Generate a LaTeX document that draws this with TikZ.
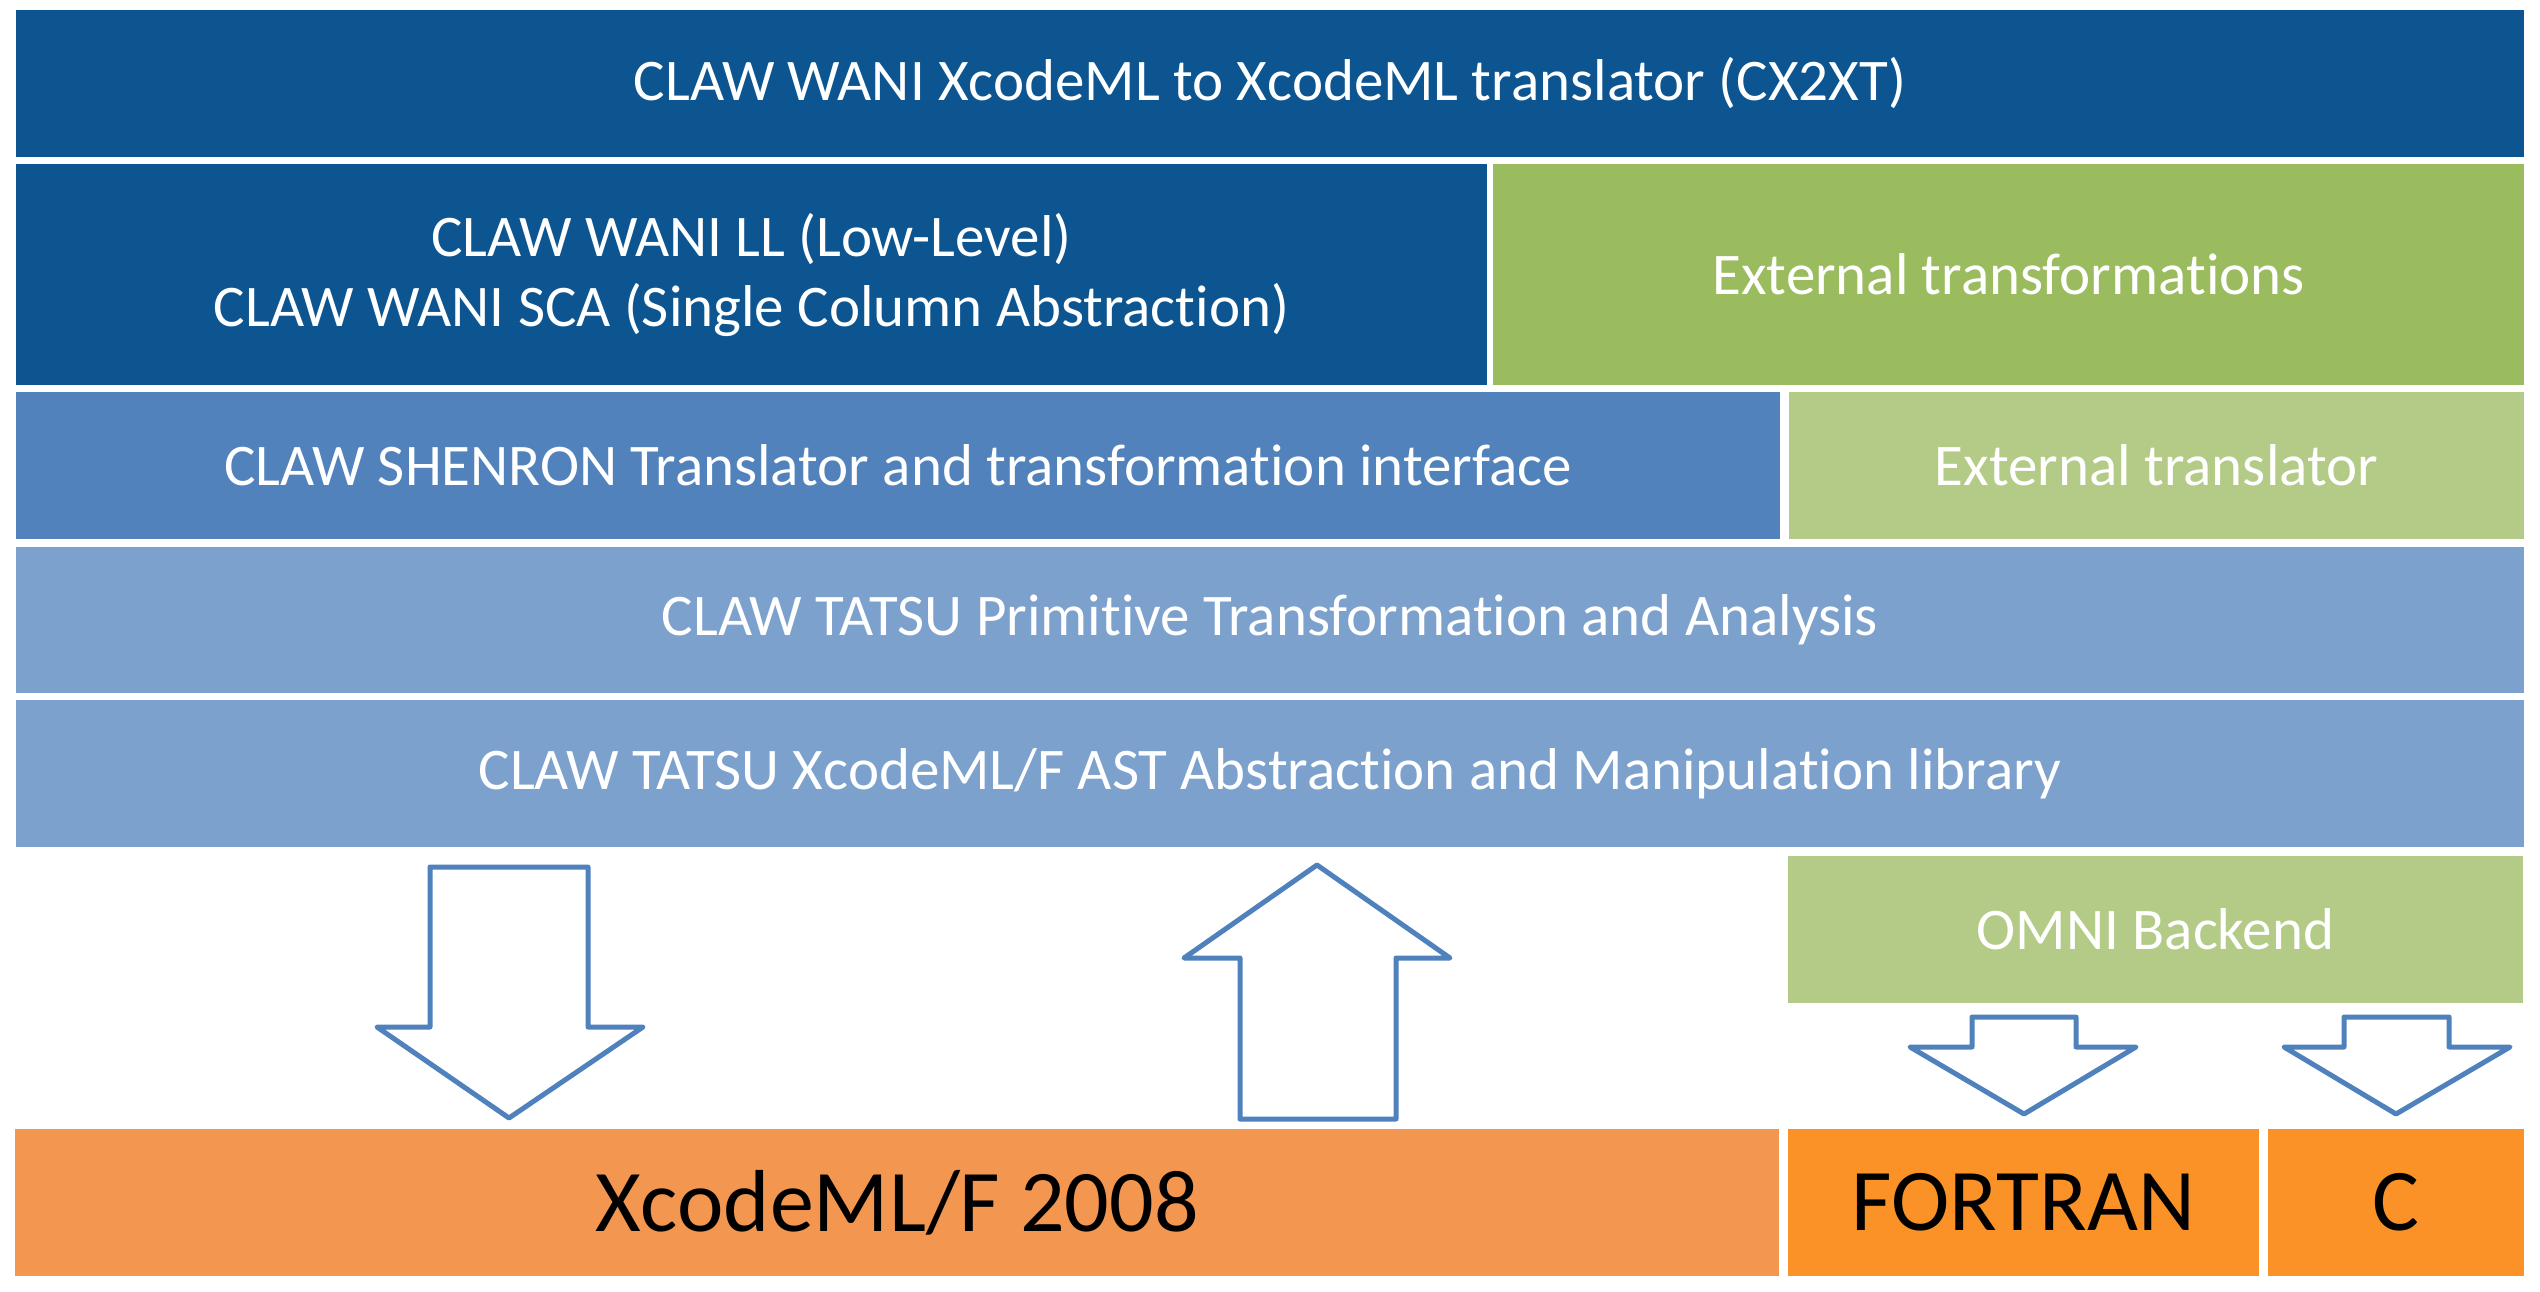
\documentclass[tikz,border=0pt]{standalone}
\usepackage{fontspec}
\setmainfont[Ligatures={NoCommon}]{Carlito}
\definecolor{dblue}{HTML}{0C5591}
\definecolor{mblue}{HTML}{5182BB}
\definecolor{lblue}{HTML}{7CA1CC}
\definecolor{dgreen}{HTML}{9BBB5F}
\definecolor{lgreen}{HTML}{B3CB87}
\definecolor{lorange}{HTML}{F39650}
\definecolor{borange}{HTML}{FB9228}
\definecolor{arrowblue}{HTML}{4F81BD}
\begin{document}
\begin{tikzpicture}[x=1pt,y=-1pt,
  box/.style={anchor=north west, inner sep=0pt, outer sep=0pt, draw=none,
    text=white, align=center, font=\fontsize{59}{70}\selectfont},
  outbox/.style={box, text=black, font=\fontsize{88}{100}\selectfont},
  blockarrow/.style={draw=arrowblue, line width=5pt, line join=round, fill=white}]
\useasboundingbox[fill=white] (0,0) rectangle (2540,1292);

\node[box, fill=dblue, minimum width=2508pt, minimum height=147pt] (cx2xt) at (16,10)
  {CLAW WANI XcodeML to XcodeML translator (CX2XT)};
\node[box, fill=dblue, minimum width=1471pt, minimum height=221pt] (wani) at (16,164)
  {CLAW WANI LL (Low-Level)\\CLAW WANI SCA (Single Column Abstraction)};
\node[box, fill=dgreen, minimum width=1031pt, minimum height=221pt] (exttr) at (1493,164)
  {External transformations};
\node[box, fill=mblue, minimum width=1764pt, minimum height=147pt] (shenron) at (16,392)
  {CLAW SHENRON Translator and transformation interface};
\node[box, fill=lgreen, minimum width=735pt, minimum height=147pt] (extlat) at (1789,392)
  {External translator};
\node[box, fill=lblue, minimum width=2508pt, minimum height=146pt] (prim) at (16,547)
  {CLAW TATSU Primitive Transformation and Analysis};
\node[box, fill=lblue, minimum width=2508pt, minimum height=147pt] (ast) at (16,700)
  {CLAW TATSU XcodeML/F AST Abstraction and Manipulation library};
\node[box, fill=lgreen, minimum width=735pt, minimum height=147pt] (omni) at (1788,856)
  {OMNI Backend};
\node[outbox, fill=lorange, minimum width=1764pt, minimum height=147pt] (xcml) at (15,1129)
  {XcodeML/F 2008};
\node[outbox, fill=borange, minimum width=471pt, minimum height=147pt] (fortran) at (1788,1129)
  {FORTRAN};
\node[outbox, fill=borange, minimum width=256pt, minimum height=147pt] (clang) at (2268,1129)
  {C};

% block arrows
\draw[blockarrow] (430,867) -- (588,867) -- (588,1027) -- (643,1027) -- (509,1118)
  -- (377,1027) -- (430,1027) -- cycle;
\draw[blockarrow] (1240,1119) -- (1396,1119) -- (1396,958) -- (1450,958) -- (1317,865)
  -- (1184,958) -- (1240,958) -- cycle;
\draw[blockarrow] (1972,1017) -- (2076,1017) -- (2076,1047) -- (2136,1047) -- (2024,1114)
  -- (1910,1047) -- (1972,1047) -- cycle;
\draw[blockarrow] (2344,1017) -- (2449,1017) -- (2449,1047) -- (2510,1047) -- (2396,1114)
  -- (2284,1047) -- (2344,1047) -- cycle;
\end{tikzpicture}
\end{document}
